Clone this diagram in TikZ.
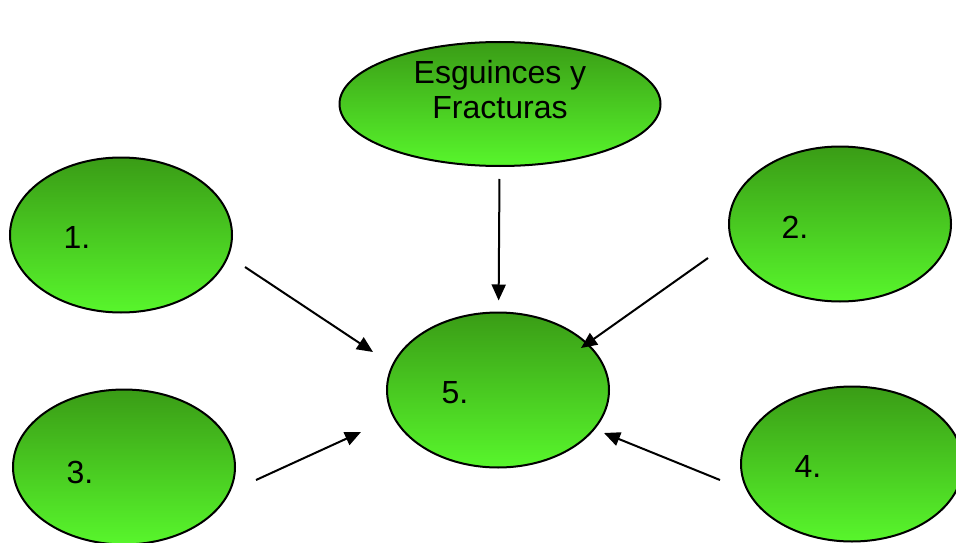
\documentclass[tikz,border=0pt]{standalone}
\usepackage{fontspec}
\setmainfont{Liberation Sans}
\usetikzlibrary{shapes.geometric,arrows.meta,positioning}
\definecolor{gtop}{RGB}{58,156,22}
\definecolor{gbot}{RGB}{88,246,44}
\newcommand\lab{\fontsize{32}{35}\selectfont}
\tikzset{
  bubble/.style={ellipse,draw=black,line width=2pt,top color=gtop,bottom color=gbot,
    minimum width=222pt,minimum height=155pt,inner sep=0pt},
  num/.style={font=\lab,xshift=-44pt},
  arr/.style={-{Triangle[length=16pt,width=14pt]},line width=2pt},
}
\begin{document}
\begin{tikzpicture}[x=1pt,y=-1pt]
\useasboundingbox (0,0) rectangle (956,543);
% bubbles
\node[bubble,minimum width=321pt,minimum height=124pt,
  label={[font=\lab,align=center,yshift=14pt]center:Esguinces y\\Fracturas}] (top) at (500,104) {};
\node[bubble,label={[num,yshift=-2pt]center:1.}] (e1) at (121,235) {};
\node[bubble,label={[num,yshift=-3pt,xshift=-1pt]center:2.}] (e2) at (840,224) {};
\node[bubble,label={[num,yshift=-5pt]center:3.}] (e3) at (124,467) {};
\node[bubble,label={[num,yshift=-2pt]center:4.}] (e4) at (852,464) {};
\node[bubble,label={[num,yshift=-3pt,xshift=1pt]center:5.}] (e5) at (498,390) {};
% arrow ends
\coordinate (a1) at (245,267);
\coordinate (b1) at (373,352);
\coordinate (a2) at (708,258);
\coordinate (b2) at (581,348);
\coordinate (a3) at (256,480);
\coordinate (b3) at (361,432);
\coordinate (a4) at (720,480);
\coordinate (b4) at (604,433);
\draw[arr,shorten <=12pt,shorten >=11pt] (top) -- (e5);
\draw[arr] (a1) -- (b1);
\draw[arr] (a2) -- (b2);
\draw[arr] (a3) -- (b3);
\draw[arr] (a4) -- (b4);
\end{tikzpicture}
\end{document}
